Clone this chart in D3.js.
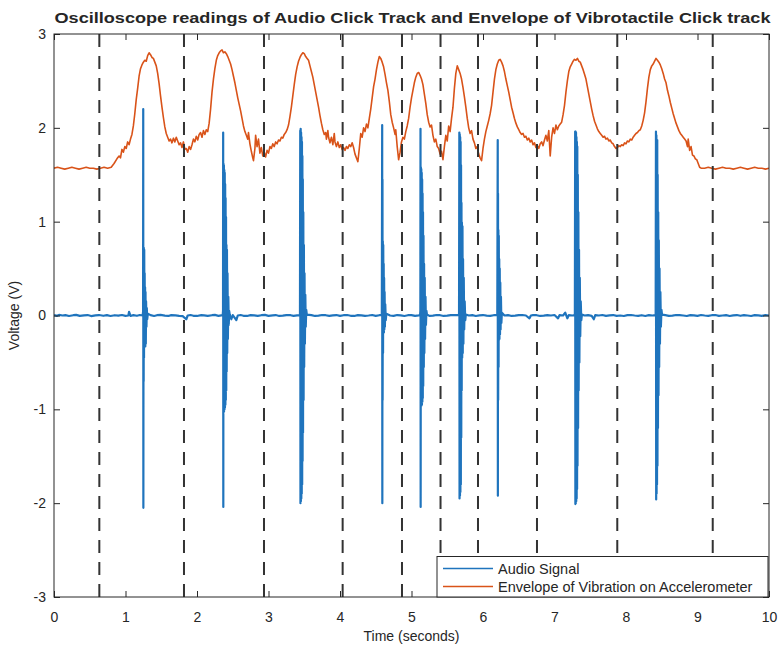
<!DOCTYPE html>
<html>
<head>
<meta charset="utf-8">
<script src="https://cdn.jsdelivr.net/npm/d3@7"></script>
<style>
  html, body { margin: 0; padding: 0; background: #fff; }
  svg { display: block; }
  text { font-family: "Liberation Sans", Arial, Helvetica, sans-serif; fill: #262626; }
</style>
</head>
<body>
<svg id="chart" width="781" height="652"></svg>
<script>
// ---- data ---------------------------------------------------------------
const chartTitle = "Oscilloscope readings of Audio Click Track and Envelope of Vibrotactile Click track";
const xLabel = "Time (seconds)";
const yLabel = "Voltage (V)";
const xTickValues = [0, 1, 2, 3, 4, 5, 6, 7, 8, 9, 10];
const yTickValues = [-3, -2, -1, 0, 1, 2, 3];
const seriesNames = ["Audio Signal", "Envelope of Vibration on Accelerometer"];

// times of the vertical dashed marker lines (s)
const markerTimes = [0.634, 1.818, 2.937, 4.037, 4.867, 5.406, 5.930, 6.755, 7.878, 9.213];

// audio click track [time s, volts]
const audioSignal = [
  [0.00,0.005],[0.04,-0.004],[0.07,0.006],[0.12,0.000],[0.16,0.004],[0.21,-0.005],[0.27,0.003],[0.31,0.006],[0.36,-0.004],[0.42,0.002],
  [0.47,0.005],[0.52,-0.006],[0.58,0.001],[0.63,0.005],[0.69,-0.003],[0.74,0.004],[0.79,-0.005],[0.85,0.003],[0.90,-0.002],[0.95,0.005],
  [1.00,-0.004],[1.04,0.000],[1.05,0.04],[1.07,-0.005],[1.11,0.004],[1.16,-0.003],[1.20,0.005],[1.240,0.000],
  // click 1
  [1.246,0.04],[1.248,2.20],[1.250,-2.05],[1.252,0.50],[1.254,-0.70],[1.256,0.72],[1.259,-0.45],[1.262,0.70],[1.265,-0.30],
  [1.268,0.45],[1.271,-0.25],[1.274,0.30],[1.277,-0.33],[1.280,0.25],[1.284,-0.30],[1.288,0.15],[1.293,-0.12],[1.298,0.08],
  [1.304,-0.04],[1.312,0.02],
  [1.35,0.004],[1.40,-0.005],[1.44,0.003],[1.49,0.006],[1.55,-0.002],[1.60,-0.005],[1.64,0.004],[1.70,0.002],[1.75,-0.004],[1.80,-0.006],
  [1.85,-0.04],[1.87,0.000],[1.91,0.005],[1.95,-0.003],[2.00,-0.005],[2.06,0.004],[2.10,0.002],[2.15,-0.004],[2.21,0.003],[2.25,0.006],
  [2.30,-0.004],[2.360,0.004],
  // click 2
  [2.364,0.05],[2.366,1.95],[2.368,-2.04],[2.370,1.62],[2.373,-1.03],[2.376,1.60],[2.379,-1.02],[2.382,1.55],[2.385,-1.00],
  [2.388,1.52],[2.391,-0.98],[2.394,1.40],[2.397,-0.95],[2.400,1.25],[2.403,-0.90],[2.406,1.05],[2.409,-0.80],[2.412,0.75],
  [2.415,-0.60],[2.419,0.70],[2.423,-0.40],[2.427,0.45],[2.432,-0.25],[2.438,0.20],[2.444,-0.10],[2.450,0.05],[2.458,0.01],
  [2.48,-0.04],[2.50,0.004],[2.55,-0.05],[2.57,0.000],[2.61,0.005],[2.65,-0.003],[2.70,-0.005],[2.75,0.004],[2.80,0.002],[2.85,-0.004],
  [2.90,0.003],[2.95,0.006],[3.00,-0.004],[3.06,0.002],[3.10,0.005],[3.15,-0.005],[3.20,-0.002],[3.25,0.004],[3.31,0.003],[3.35,-0.004],
  [3.40,0.002],[3.440,0.005],
  // click 3
  [3.444,1.97],[3.447,-2.00],[3.450,1.99],[3.453,-1.98],[3.456,1.95],[3.459,-1.95],[3.462,1.90],[3.465,-1.90],[3.468,1.85],
  [3.471,-1.80],[3.474,1.70],[3.477,-1.55],[3.480,1.45],[3.483,-1.25],[3.487,1.10],[3.491,-0.90],[3.495,0.75],[3.499,-0.55],
  [3.504,0.45],[3.509,-0.30],[3.515,0.22],[3.521,-0.12],[3.528,0.06],[3.536,0.01],
  [3.60,0.004],[3.65,-0.005],[3.70,-0.002],[3.75,0.005],[3.80,0.003],[3.85,-0.004],[3.90,0.001],[3.95,0.005],[4.00,-0.004],[4.05,0.003],
  [4.10,0.005],[4.15,-0.003],[4.20,-0.005],[4.25,0.004],[4.30,0.002],[4.35,-0.004],[4.40,0.000],[4.45,0.005],[4.50,-0.004],[4.55,0.003],
  [4.585,0.004],
  // click 4
  [4.590,2.03],[4.592,-2.00],[4.594,1.45],[4.596,-0.90],[4.599,0.79],[4.602,-0.40],[4.605,0.75],[4.608,-0.18],[4.611,0.55],
  [4.614,-0.18],[4.617,0.40],[4.620,-0.15],[4.624,0.25],[4.628,-0.12],[4.633,0.12],[4.640,-0.05],[4.648,0.02],
  [4.70,0.000],[4.75,-0.004],[4.80,0.005],[4.85,0.001],[4.90,-0.005],[4.95,0.003],[5.00,0.004],[5.05,-0.004],[5.10,0.001],[5.120,0.004],
  // click 5
  [5.124,0.05],[5.126,1.99],[5.128,-2.04],[5.131,1.58],[5.134,-0.96],[5.137,1.56],[5.140,-0.96],[5.143,1.52],[5.146,-0.95],
  [5.149,1.45],[5.152,-0.92],[5.155,1.30],[5.158,-0.88],[5.161,1.10],[5.164,-0.75],[5.168,0.85],[5.172,-0.55],[5.176,0.55],
  [5.180,-0.40],[5.185,0.40],[5.190,-0.25],[5.196,0.20],[5.202,-0.10],[5.209,0.05],[5.216,0.01],
  [5.25,-0.004],[5.30,-0.002],[5.35,0.005],[5.40,0.003],[5.45,-0.005],[5.50,-0.002],[5.55,0.004],[5.60,0.003],[5.665,0.004],
  // click 6
  [5.669,1.95],[5.672,-1.95],[5.675,1.93],[5.678,-1.92],[5.681,1.90],[5.684,-1.88],[5.687,1.85],[5.690,-1.80],[5.693,1.60],
  [5.696,-1.30],[5.699,1.20],[5.702,-0.80],[5.705,0.99],[5.709,-0.45],[5.713,0.95],[5.717,-0.40],[5.721,0.60],[5.726,-0.30],
  [5.731,0.40],[5.737,-0.15],[5.744,0.15],[5.752,-0.05],[5.760,0.01],
  [5.80,0.000],[5.85,0.004],[5.90,-0.005],[5.95,0.001],[6.00,0.005],[6.05,-0.002],[6.10,-0.004],[6.15,0.003],[6.200,0.004],
  // click 7
  [6.206,1.87],[6.208,-1.92],[6.210,1.30],[6.212,-0.90],[6.215,0.91],[6.218,-0.55],[6.221,0.85],[6.224,-0.26],[6.227,0.60],
  [6.230,-0.25],[6.234,0.50],[6.238,-0.20],[6.242,0.35],[6.246,-0.15],[6.251,0.20],[6.257,-0.08],[6.264,0.03],
  [6.30,0.000],[6.35,0.004],[6.40,-0.005],[6.45,-0.002],[6.50,0.004],[6.55,0.005],[6.60,0.000],[6.65,-0.03],[6.67,0.000],[6.70,0.004],
  [6.75,0.003],[6.80,-0.005],[6.85,-0.002],[6.90,0.004],[6.95,0.000],[7.00,0.005],[7.05,-0.03],[7.07,0.004],[7.12,0.000],[7.15,0.03],
  [7.18,-0.03],[7.20,0.004],[7.25,0.000],[7.285,0.004],
  // click 8
  [7.289,1.96],[7.292,-2.01],[7.295,1.96],[7.298,-2.00],[7.301,1.95],[7.304,-1.98],[7.307,1.90],[7.310,-1.95],[7.313,1.85],
  [7.316,-1.85],[7.319,1.80],[7.322,-1.60],[7.326,1.50],[7.330,-1.20],[7.334,1.10],[7.338,-0.80],[7.343,0.70],[7.348,-0.50],
  [7.354,0.40],[7.360,-0.22],[7.367,0.15],[7.375,-0.05],[7.383,0.01],
  [7.42,0.000],[7.47,0.004],[7.52,-0.004],[7.55,-0.04],[7.57,0.004],[7.62,0.000],[7.67,0.005],[7.72,-0.004],[7.77,0.001],[7.82,0.005],
  [7.87,-0.004],[7.92,0.000],[7.97,-0.005],[8.02,0.004],[8.07,0.005],[8.12,0.000],[8.17,-0.004],[8.22,0.003],[8.27,-0.005],[8.32,0.004],
  [8.37,0.000],[8.415,0.004],
  // click 9
  [8.419,1.96],[8.422,-1.96],[8.425,1.92],[8.428,-1.90],[8.431,1.87],[8.434,-1.80],[8.437,1.87],[8.440,-1.60],[8.443,1.50],
  [8.447,-1.20],[8.451,1.10],[8.455,-0.85],[8.459,0.80],[8.464,-0.55],[8.469,0.50],[8.475,-0.30],[8.481,0.25],[8.488,-0.12],
  [8.496,0.06],[8.504,0.01],
  [8.55,0.004],[8.60,-0.004],[8.65,-0.002],[8.70,0.005],[8.75,0.003],[8.80,0.000],[8.85,-0.005],[8.90,0.004],[8.95,0.001],[9.00,-0.004],
  [9.05,0.005],[9.10,0.000],[9.15,-0.004],[9.20,0.003],[9.25,0.005],[9.30,-0.004],[9.35,0.000],[9.40,0.004],[9.45,-0.005],[9.50,0.001],
  [9.55,0.005],[9.60,-0.003],[9.65,0.004],[9.70,0.000],[9.75,-0.005],[9.80,0.004],[9.85,0.001],[9.90,-0.004],[9.95,0.005],[10.00,0.000]
];

// accelerometer envelope [time s, volts]
const vibrationEnvelope = [
  [0.00,1.57],[0.05,1.58],[0.10,1.57],[0.15,1.56],[0.20,1.57],[0.25,1.58],[0.30,1.57],[0.35,1.56],[0.40,1.57],[0.45,1.58],
  [0.50,1.57],[0.55,1.57],[0.60,1.56],[0.65,1.57],[0.70,1.58],[0.75,1.57],[0.80,1.58],[0.84,1.62],[0.88,1.67],[0.91,1.70],
  [0.93,1.68],[0.95,1.77],[0.97,1.74],[0.99,1.80],[1.01,1.78],[1.03,1.85],[1.05,1.82],[1.07,1.88],[1.09,1.93],[1.11,2.02],
  [1.13,2.15],[1.15,2.30],[1.17,2.42],[1.19,2.55],[1.21,2.63],[1.23,2.67],[1.25,2.70],[1.27,2.72],[1.29,2.71],[1.31,2.77],
  [1.33,2.80],[1.35,2.78],[1.37,2.75],[1.39,2.74],[1.41,2.70],[1.43,2.66],[1.45,2.58],[1.47,2.47],[1.49,2.34],[1.51,2.22],
  [1.53,2.11],[1.55,2.01],[1.57,1.94],[1.59,1.90],[1.61,1.86],[1.63,1.88],[1.65,1.84],[1.67,1.89],[1.69,1.85],[1.71,1.90],
  [1.73,1.86],[1.75,1.82],[1.77,1.84],[1.79,1.79],[1.81,1.85],[1.83,1.77],[1.85,1.78],[1.87,1.74],[1.89,1.80],[1.91,1.77],
  [1.93,1.82],[1.95,1.88],[1.97,1.85],[1.99,1.91],[2.01,1.87],[2.03,1.93],[2.05,1.95],[2.07,1.90],[2.09,1.97],[2.11,1.93],
  [2.13,1.98],[2.15,1.96],[2.17,2.05],[2.19,2.20],[2.21,2.38],[2.23,2.52],[2.25,2.63],[2.27,2.72],[2.29,2.77],[2.31,2.80],
  [2.33,2.82],[2.35,2.83],[2.37,2.80],[2.39,2.81],[2.41,2.79],[2.43,2.76],[2.45,2.72],[2.47,2.68],[2.49,2.62],[2.51,2.55],
  [2.53,2.48],[2.55,2.40],[2.57,2.32],[2.59,2.25],[2.61,2.18],[2.63,2.10],[2.65,2.02],[2.67,1.96],[2.69,1.92],[2.71,1.88],
  [2.72,1.95],[2.74,1.83],[2.76,1.75],[2.78,1.68],[2.79,1.65],[2.81,1.78],[2.82,1.92],[2.84,1.80],[2.86,1.88],[2.88,1.73],
  [2.90,1.79],[2.92,1.70],[2.94,1.74],[2.96,1.69],[2.98,1.76],[3.00,1.73],[3.02,1.80],[3.04,1.78],[3.06,1.83],[3.08,1.80],
  [3.10,1.85],[3.12,1.83],[3.14,1.87],[3.16,1.86],[3.18,1.90],[3.20,1.89],[3.22,1.93],[3.24,1.95],[3.26,1.98],[3.28,2.03],
  [3.30,2.12],[3.32,2.22],[3.34,2.34],[3.36,2.46],[3.38,2.57],[3.40,2.65],[3.42,2.71],[3.44,2.75],[3.46,2.78],[3.48,2.80],
  [3.50,2.79],[3.52,2.76],[3.54,2.74],[3.56,2.72],[3.58,2.66],[3.60,2.60],[3.62,2.54],[3.64,2.46],[3.66,2.38],[3.68,2.30],
  [3.70,2.22],[3.72,2.13],[3.74,2.05],[3.76,1.98],[3.78,1.93],[3.80,1.95],[3.81,1.88],[3.83,1.97],[3.84,1.90],[3.86,1.84],
  [3.88,1.90],[3.90,1.82],[3.92,1.94],[3.93,1.85],[3.95,1.80],[3.97,1.85],[3.99,1.79],[4.01,1.82],[4.03,1.77],[4.05,1.79],
  [4.07,1.76],[4.09,1.80],[4.11,1.78],[4.13,1.82],[4.15,1.80],[4.17,1.84],[4.19,1.79],[4.21,1.72],[4.23,1.68],[4.25,1.64],
  [4.27,1.78],[4.29,1.94],[4.31,1.90],[4.33,2.00],[4.35,1.96],[4.37,2.04],[4.39,2.00],[4.41,2.10],[4.43,2.20],[4.45,2.32],
  [4.47,2.44],[4.49,2.52],[4.51,2.62],[4.53,2.70],[4.55,2.76],[4.57,2.74],[4.59,2.70],[4.61,2.65],[4.63,2.57],[4.65,2.48],
  [4.67,2.40],[4.69,2.28],[4.71,2.14],[4.73,2.06],[4.75,2.00],[4.77,1.93],[4.78,1.98],[4.80,1.80],[4.82,1.66],[4.84,1.74],
  [4.86,1.85],[4.88,1.90],[4.90,1.88],[4.92,1.96],[4.94,2.02],[4.96,2.10],[4.98,2.22],[5.00,2.32],[5.02,2.40],[5.04,2.48],
  [5.06,2.54],[5.08,2.58],[5.10,2.59],[5.12,2.56],[5.14,2.52],[5.16,2.46],[5.18,2.36],[5.20,2.26],[5.22,2.14],[5.24,2.06],
  [5.26,2.01],[5.28,2.03],[5.30,1.92],[5.32,1.85],[5.34,1.88],[5.36,1.80],[5.38,1.78],[5.40,1.72],[5.42,1.75],[5.44,1.66],
  [5.46,1.80],[5.48,1.92],[5.50,1.86],[5.52,2.02],[5.54,1.96],[5.56,2.10],[5.58,2.22],[5.60,2.42],[5.62,2.58],[5.63,2.62],
  [5.64,2.66],[5.66,2.62],[5.68,2.58],[5.70,2.52],[5.72,2.43],[5.74,2.33],[5.76,2.22],[5.78,2.10],[5.80,2.00],[5.82,1.94],
  [5.84,1.97],[5.86,1.88],[5.88,1.84],[5.90,1.78],[5.92,1.80],[5.94,1.72],[5.96,1.68],[5.98,1.65],[6.00,1.78],[6.02,1.88],
  [6.04,1.96],[6.06,2.02],[6.08,2.08],[6.10,2.15],[6.12,2.24],[6.14,2.38],[6.16,2.52],[6.18,2.62],[6.20,2.68],[6.22,2.72],
  [6.24,2.73],[6.26,2.70],[6.28,2.66],[6.30,2.60],[6.32,2.52],[6.34,2.45],[6.36,2.38],[6.38,2.30],[6.40,2.22],[6.42,2.16],
  [6.44,2.10],[6.46,2.05],[6.48,2.01],[6.50,1.98],[6.52,1.95],[6.54,1.93],[6.56,1.94],[6.58,1.90],[6.60,1.91],[6.62,1.87],
  [6.64,1.89],[6.66,1.85],[6.68,1.87],[6.70,1.82],[6.72,1.84],[6.74,1.79],[6.76,1.81],[6.78,1.78],[6.80,1.83],[6.82,1.85],
  [6.84,1.81],[6.86,1.87],[6.88,1.92],[6.90,1.86],[6.92,1.97],[6.94,1.70],[6.96,1.90],[6.98,2.00],[7.00,1.94],[7.02,2.03],
  [7.04,1.98],[7.06,2.02],[7.08,2.04],[7.10,2.06],[7.12,2.14],[7.14,2.24],[7.16,2.38],[7.18,2.50],[7.20,2.60],[7.22,2.65],
  [7.24,2.68],[7.26,2.71],[7.28,2.73],[7.30,2.72],[7.32,2.74],[7.34,2.71],[7.36,2.70],[7.38,2.66],[7.40,2.62],[7.42,2.57],
  [7.44,2.52],[7.46,2.44],[7.48,2.36],[7.50,2.28],[7.52,2.20],[7.54,2.13],[7.56,2.07],[7.58,2.03],[7.60,1.99],[7.62,1.96],
  [7.64,1.94],[7.66,1.92],[7.68,1.90],[7.70,1.91],[7.72,1.88],[7.74,1.89],[7.76,1.86],[7.78,1.87],[7.80,1.84],[7.82,1.83],
  [7.84,1.80],[7.86,1.78],[7.88,1.79],[7.90,1.81],[7.92,1.80],[7.94,1.82],[7.96,1.81],[7.98,1.84],[8.00,1.83],[8.02,1.86],
  [8.04,1.85],[8.06,1.88],[8.08,1.87],[8.10,1.90],[8.12,1.92],[8.14,1.94],[8.16,1.95],[8.18,1.97],[8.20,1.98],[8.22,2.02],
  [8.24,2.08],[8.26,2.16],[8.28,2.28],[8.30,2.42],[8.32,2.54],[8.34,2.62],[8.36,2.66],[8.38,2.68],[8.40,2.71],[8.42,2.74],
  [8.44,2.72],[8.46,2.70],[8.48,2.67],[8.50,2.63],[8.52,2.58],[8.54,2.52],[8.56,2.48],[8.58,2.40],[8.60,2.34],[8.62,2.27],
  [8.64,2.21],[8.66,2.15],[8.68,2.10],[8.70,2.05],[8.72,2.01],[8.74,1.97],[8.76,1.94],[8.78,1.92],[8.80,1.90],[8.82,1.88],
  [8.84,1.86],[8.86,1.80],[8.87,1.88],[8.89,1.76],[8.91,1.80],[8.93,1.71],[8.95,1.70],[8.97,1.67],[8.99,1.66],[9.01,1.62],
  [9.03,1.58],[9.05,1.57],[9.10,1.57],[9.15,1.58],[9.20,1.57],[9.25,1.56],[9.30,1.57],[9.35,1.58],[9.40,1.57],[9.45,1.57],
  [9.50,1.56],[9.55,1.57],[9.60,1.58],[9.65,1.57],[9.70,1.56],[9.75,1.57],[9.80,1.58],[9.85,1.57],[9.90,1.57],[9.95,1.56],
  [10.00,1.57]
];

// ---- layout -------------------------------------------------------------
const W = 781, H = 652;
const plot = { left: 54, right: 769, top: 34, bottom: 597 };
const colors = { audio: "#1f74bd", envelope: "#d95319", axis: "#262626", marker: "#333333" };

const svg = d3.select("#chart");
svg.append("rect").attr("width", W).attr("height", H).attr("fill", "#fff");

const x = d3.scaleLinear().domain([0, 10]).range([plot.left, plot.right]);
const y = d3.scaleLinear().domain([-3, 3]).range([plot.bottom, plot.top]);

svg.append("defs").append("clipPath").attr("id", "plot-clip")
  .append("rect")
  .attr("x", plot.left).attr("y", plot.top)
  .attr("width", plot.right - plot.left).attr("height", plot.bottom - plot.top);

const plotG = svg.append("g").attr("clip-path", "url(#plot-clip)");

const line = d3.line().x(d => x(d[0])).y(d => y(d[1]));

plotG.append("path")
  .datum(audioSignal)
  .attr("d", line)
  .attr("fill", "none")
  .attr("stroke", colors.audio)
  .attr("stroke-width", 2.2)
  .attr("stroke-linejoin", "round");

plotG.append("path")
  .datum(vibrationEnvelope)
  .attr("d", line)
  .attr("fill", "none")
  .attr("stroke", colors.envelope)
  .attr("stroke-width", 1.6)
  .attr("stroke-linejoin", "round");

// dashed markers
plotG.selectAll("line.marker")
  .data(markerTimes)
  .join("line")
  .attr("class", "marker")
  .attr("x1", d => x(d)).attr("x2", d => x(d))
  .attr("y1", plot.top).attr("y2", plot.bottom)
  .attr("stroke", colors.marker)
  .attr("stroke-width", 2)
  .attr("stroke-dasharray", "13,9");

// ---- axes ---------------------------------------------------------------
const plainNumber = d => String(d);

function styleAxis(g) {
  g.select(".domain").remove();
  g.selectAll(".tick line").attr("stroke", colors.axis).attr("stroke-width", 1);
  g.selectAll(".tick text").attr("fill", colors.axis)
    .style("font-family", '"Liberation Sans", Arial, sans-serif')
    .style("font-size", "14px");
}

svg.append("g")
  .attr("transform", `translate(0,${plot.bottom})`)
  .call(d3.axisBottom(x).tickValues(xTickValues).tickFormat(plainNumber)
    .tickSizeInner(-6).tickSizeOuter(0).tickPadding(15))
  .call(styleAxis);

svg.append("g")
  .attr("transform", `translate(0,${plot.top})`)
  .call(d3.axisTop(x).tickValues(xTickValues).tickFormat("")
    .tickSizeInner(-6).tickSizeOuter(0))
  .call(styleAxis);

svg.append("g")
  .attr("transform", `translate(${plot.left},0)`)
  .call(d3.axisLeft(y).tickValues(yTickValues).tickFormat(plainNumber)
    .tickSizeInner(-6).tickSizeOuter(0).tickPadding(8))
  .call(styleAxis);

svg.append("g")
  .attr("transform", `translate(${plot.right},0)`)
  .call(d3.axisRight(y).tickValues(yTickValues).tickFormat("")
    .tickSizeInner(-6).tickSizeOuter(0))
  .call(styleAxis);

// axes box
svg.append("rect")
  .attr("x", plot.left).attr("y", plot.top)
  .attr("width", plot.right - plot.left).attr("height", plot.bottom - plot.top)
  .attr("fill", "none").attr("stroke", colors.axis).attr("stroke-width", 1);

// ---- labels -------------------------------------------------------------
svg.append("text")
  .attr("x", (plot.left + plot.right) / 2 + 1).attr("y", 23)
  .attr("text-anchor", "middle")
  .attr("textLength", 716).attr("lengthAdjust", "spacingAndGlyphs")
  .style("font-size", "15px").style("font-weight", "bold")
  .attr("fill", "#000")
  .text(chartTitle);

svg.append("text")
  .attr("x", (plot.left + plot.right) / 2).attr("y", 641)
  .attr("text-anchor", "middle")
  .style("font-size", "14px")
  .text(xLabel);

svg.append("text")
  .attr("transform", `translate(19,${(plot.top + plot.bottom) / 2}) rotate(-90)`)
  .attr("text-anchor", "middle")
  .style("font-size", "14px")
  .text(yLabel);

// ---- legend -------------------------------------------------------------
const legend = svg.append("g");
const lg = { x0: 437, y0: 556.5, x1: 768, y1: 597 };
legend.append("rect")
  .attr("x", lg.x0).attr("y", lg.y0)
  .attr("width", lg.x1 - lg.x0).attr("height", lg.y1 - lg.y0)
  .attr("fill", "#fff").attr("stroke", colors.axis).attr("stroke-width", 1);

const legendRows = [
  { name: seriesNames[0], color: colors.audio, cy: 568.5 },
  { name: seriesNames[1], color: colors.envelope, cy: 586.5 }
];
legendRows.forEach(r => {
  legend.append("line")
    .attr("x1", 443).attr("x2", 493)
    .attr("y1", r.cy).attr("y2", r.cy)
    .attr("stroke", r.color).attr("stroke-width", 1.5);
  legend.append("text")
    .attr("x", 498).attr("y", r.cy + 5)
    .style("font-size", "14.5px")
    .text(r.name);
});
</script>
</body>
</html>
